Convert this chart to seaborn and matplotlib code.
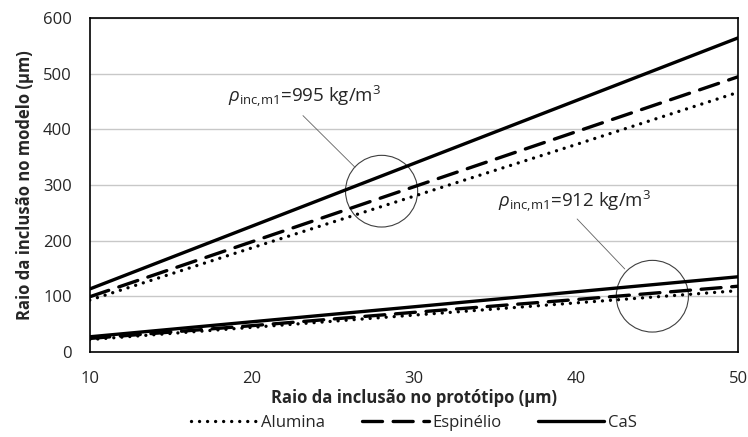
import pandas as pd
import matplotlib.pyplot as plt
from matplotlib.patches import Ellipse
import seaborn as sns

# raio no prototipo (um)
raio_prot = [10, 20, 30, 40, 50]

# rho_inc,m1 = 995 kg/m3
alumina_995 = [93, 187, 280, 373, 467]
espinelio_995 = [99, 198, 297, 396, 495]
cas_995 = [113, 226, 339, 452, 565]

# rho_inc,m1 = 912 kg/m3
alumina_912 = [22, 44, 66, 88, 110]
espinelio_912 = [24, 47, 71, 94, 118]
cas_912 = [27, 54, 81, 108, 135]

materiais = ['Alumina', 'Espinélio', 'CaS']

rows = []
for grupo, series in [('995', [alumina_995, espinelio_995, cas_995]),
                      ('912', [alumina_912, espinelio_912, cas_912])]:
    for mat, vals in zip(materiais, series):
        for x, y in zip(raio_prot, vals):
            rows.append({'x': x, 'y': y, 'material': mat, 'grupo': grupo})
df = pd.DataFrame(rows)

sns.set_style('white')
plt.rcParams['font.family'] = ['Open Sans', 'DejaVu Sans']
plt.rcParams['mathtext.fontset'] = 'custom'
plt.rcParams['mathtext.rm'] = 'Open Sans'
plt.rcParams['mathtext.it'] = 'Open Sans:italic'

fig, ax = plt.subplots(figsize=(7.48, 4.37), dpi=100)

lw = 2.4
dashes = {'Alumina': (0.01, 2.4), 'Espinélio': (6, 3.2), 'CaS': ''}
sns.lineplot(data=df, x='x', y='y', style='material', units='grupo',
             estimator=None, dashes=dashes, color='black', linewidth=lw,
             ax=ax, legend=False)
for line in ax.lines:
    line.set_dash_capstyle('round')

ax.set_xlim(10, 50)
ax.set_ylim(0, 600)
ax.set_xticks([10, 20, 30, 40, 50])
ax.set_yticks(range(0, 601, 100))
ax.yaxis.grid(True, color='#c8c8c8', linewidth=1)
ax.set_axisbelow(True)
for sp in ax.spines.values():
    sp.set_color('black')
    sp.set_linewidth(1.2)
ax.tick_params(labelsize=12, length=0)
ax.tick_params(axis='x', pad=14)
ax.tick_params(axis='y', pad=13)

ax.set_xlabel('Raio da inclusão no protótipo (μm)', fontsize=12, fontweight='bold', labelpad=1)
ax.set_ylabel('Raio da inclusão no modelo (μm)', fontsize=12, fontweight='bold', labelpad=6)

# circulos e anotacoes
ax.add_patch(Ellipse((28.0, 289), 4.45, 129, fill=False, edgecolor='#404040', linewidth=0.8))
ax.add_patch(Ellipse((44.7, 100), 4.45, 129, fill=False, edgecolor='#404040', linewidth=0.8))
ax.plot([23.15, 26.36], [425, 332], color='#606060', linewidth=0.6)
ax.plot([40.06, 43.0], [239, 149], color='#606060', linewidth=0.6)
ax.text(18.5, 449, r'$\rho_{\mathrm{inc{,}m1}}$=995 kg/m$^3$', fontsize=13.5,
        ha='left', va='baseline')
ax.text(35.2, 260, r'$\rho_{\mathrm{inc{,}m1}}$=912 kg/m$^3$', fontsize=13.5,
        ha='left', va='baseline')

handles = []
for m in materiais:
    if dashes[m]:
        h = plt.Line2D([], [], color='black', linewidth=lw, dashes=dashes[m],
                       dash_capstyle='round', label=m)
    else:
        h = plt.Line2D([], [], color='black', linewidth=lw, label=m)
    handles.append(h)
ax.legend(handles=handles, loc='upper center', bbox_to_anchor=(0.5, -0.165), ncol=3,
          frameon=False, fontsize=12, handlelength=4, columnspacing=2.2,
          handletextpad=0.2, borderpad=0)

fig.subplots_adjust(left=0.12, right=0.987, top=0.958, bottom=0.195)
fig.savefig('out.png', dpi=100)
